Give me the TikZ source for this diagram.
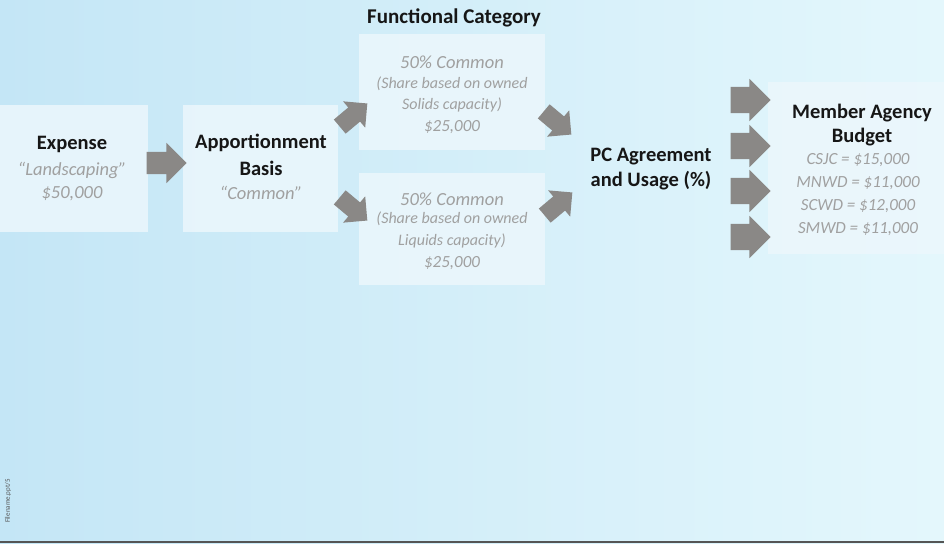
\documentclass[tikz,border=0pt]{standalone}
\usepackage{fontspec}
\setmainfont{Carlito}
\usetikzlibrary{shapes.arrows}

\definecolor{bgleft}{RGB}{196,230,246}
\definecolor{bgright}{RGB}{228,247,252}
\definecolor{panel}{RGB}{236,247,252}
\definecolor{arrowgray}{RGB}{138,136,134}
\definecolor{softtext}{RGB}{160,160,160}
\definecolor{headtext}{RGB}{22,22,22}
\definecolor{rulegray}{RGB}{85,85,85}

\tikzset{
  panelbox/.style={fill=panel, fill opacity=0.85, draw=none, inner sep=0pt},
  headtxt/.style={inner sep=0pt, text=headtext, font=\bfseries\fontsize{20.5}{24}\selectfont},
  softtxt/.style={inner sep=0pt, text=softtext, font=\itshape\fontsize{#1}{#1}\selectfont},
  softtxt/.default=18.5,
  flatarrow/.style={single arrow, fill=arrowgray, draw=none, inner xsep=0pt,
    inner ysep=11pt, single arrow head extend=9pt, minimum height=40pt},
  wideflatarrow/.style={flatarrow, inner ysep=13pt, single arrow head extend=8pt},
  tiltarrow/.style={single arrow, fill=arrowgray, draw=none, inner xsep=0pt,
    inner ysep=9pt, single arrow head extend=8pt, minimum height=36pt},
}

\begin{document}
\begin{tikzpicture}[x=1pt, y=-1pt]
  % backdrop
  \useasboundingbox (0,0) rectangle (944,543);
  \shade[left color=bgleft, right color=bgright] (0,0) rectangle (944,543);
  \fill[rulegray] (0,540.5) rectangle (944,543);

  % translucent panels
  \node[panelbox, minimum width=148pt, minimum height=127pt] (expbox) at (74,168.5) {};
  \node[panelbox, minimum width=155pt, minimum height=127pt] (appbox) at (260.5,168.5) {};
  \node[panelbox, minimum width=186pt, minimum height=116pt] (solbox) at (452,92) {};
  \node[panelbox, minimum width=186pt, minimum height=112pt] (liqbox) at (452,229) {};
  \node[panelbox, minimum width=176pt, minimum height=172pt] (membox) at (856,168) {};

  % title
  \node[headtxt, font=\bfseries\fontsize{21}{24}\selectfont] (functitle) at (454,18) {Functional Category};

  % expense
  \node[headtxt] (exphead) at (72,144) {Expense};
  \node[softtxt] (expname) at (72,170) {“Landscaping”};
  \node[softtxt] (expamt) at (72,194) {\$50,000};

  % apportionment basis
  \node[headtxt] (apphead) at (261,143) {Apportionment};
  \node[headtxt] (appbasis) at (261,168) {Basis};
  \node[softtxt] (appname) at (261,193) {“Common”};

  % solids share
  \node[softtxt=18.5] (solpct) at (452,62) {50\% Common};
  \node[softtxt=16] (solnote) at (452,84) {(Share based on owned};
  \node[softtxt=16] (solcap) at (452,105) {Solids capacity)};
  \node[softtxt=17] (solamt) at (452,127) {\$25,000};

  % liquids share
  \node[softtxt=18.5] (liqpct) at (452,199) {50\% Common};
  \node[softtxt=16] (liqnote) at (452,219) {(Share based on owned};
  \node[softtxt=16] (liqcap) at (452,241) {Liquids capacity)};
  \node[softtxt=17] (liqamt) at (452,263) {\$25,000};

  % agreement
  \node[headtxt] (pchead) at (651,157) {PC Agreement};
  \node[headtxt] (pcusage) at (651,181) {and Usage (\%)};

  % member agency budget
  \node[headtxt] (memhead) at (862,113) {Member Agency};
  \node[headtxt] (membudget) at (862,137) {Budget};
  \node[softtxt=17] (csjc) at (858,160) {CSJC = \$15,000};
  \node[softtxt=17] (mnwd) at (858,183) {MNWD = \$11,000};
  \node[softtxt=17] (scwd) at (858,206) {SCWD = \$12,000};
  \node[softtxt=17] (smwd) at (858,229) {SMWD = \$11,000};

  % block arrows
  \node[flatarrow] (a1) at (161,163) {};
  \node[tiltarrow, rotate=40] (a2) at (350,118) {};
  \node[tiltarrow, rotate=-40] (a3) at (350,206) {};
  \node[tiltarrow, rotate=-40] (a4) at (554,120) {};
  \node[tiltarrow, rotate=40] (a5) at (555,207) {};
  \node[wideflatarrow] (m1) at (744,100) {};
  \node[wideflatarrow] (m2) at (744,146) {};
  \node[wideflatarrow] (m3) at (744,191) {};
  \node[wideflatarrow] (m4) at (744,237) {};

  % slide footer
  \node[rotate=90, text=rulegray, font=\fontsize{7}{8}\selectfont] (fname) at (8,501) {Filename.ppt/5};
\end{tikzpicture}
\end{document}
